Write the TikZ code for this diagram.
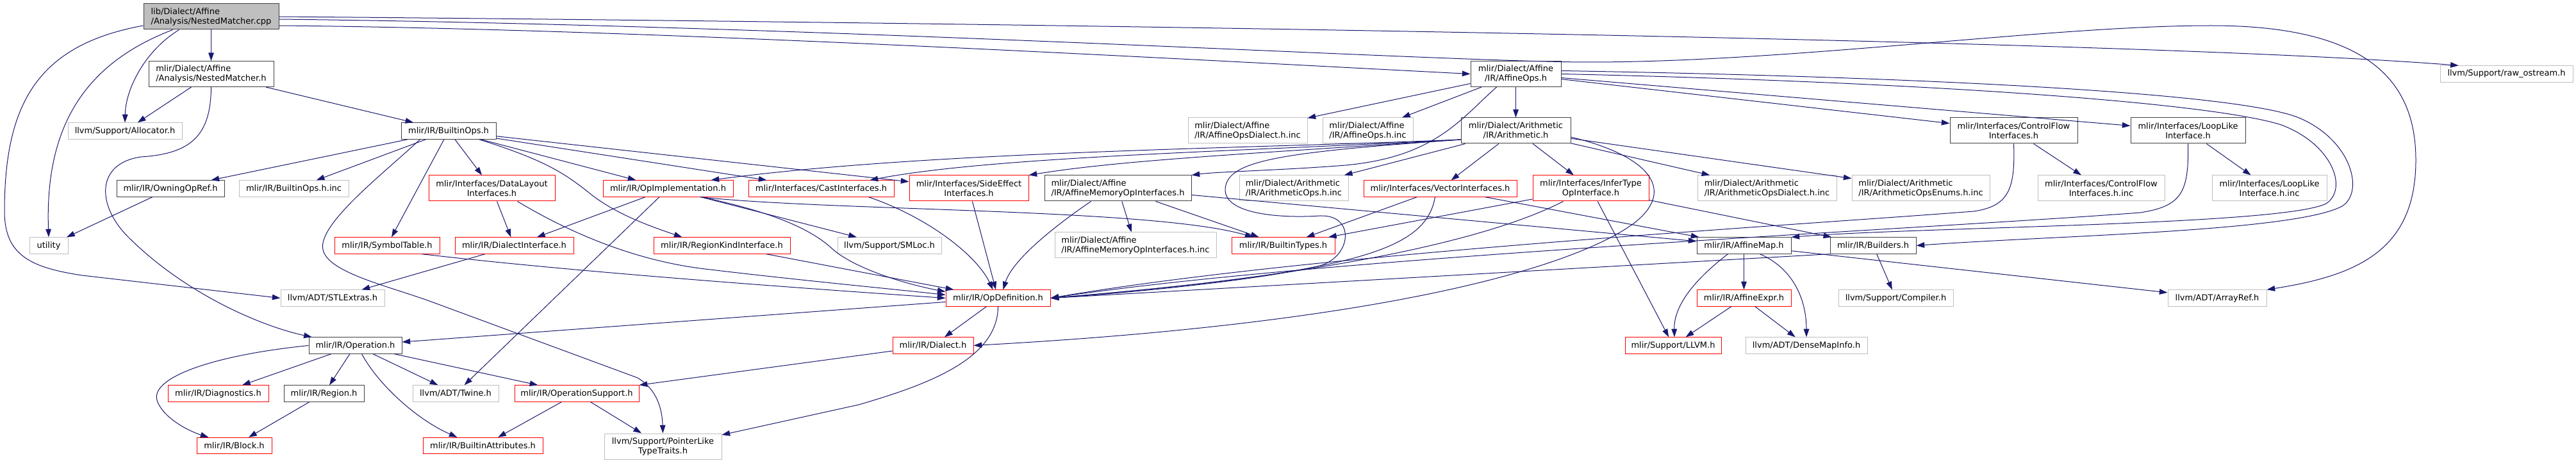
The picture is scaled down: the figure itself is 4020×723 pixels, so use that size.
\documentclass[tikz,border=0pt]{standalone}
\usepackage{fontspec}
\setmainfont{DejaVu Sans}
\usepackage{xcolor}
\usetikzlibrary{arrows.meta, calc}
\definecolor{edge-blue}{HTML}{191970}
\definecolor{leaf-grey}{HTML}{BFBFBF}
\definecolor{node-grey}{HTML}{404040}

\begin{document}
\begin{tikzpicture}[x=0.75pt, y=-0.75pt,
    every node/.style={font=\fontsize{9.75}{11.25}\selectfont, rectangle, align=center,
      inner xsep=2pt, inner ysep=1pt, minimum height=19pt, line width=0.75pt},
    hdr/.style={draw=node-grey},
    leaf/.style={draw=leaf-grey},
    cut/.style={draw=red},
    two/.style={minimum height=30pt},
    boxw/.style={minimum width=#1*0.75pt},
    dep/.style={draw=edge-blue, line width=0.75pt, -{Triangle[length=9.5pt, width=6.5pt]}}]
    \useasboundingbox (0,0) rectangle (4020,723);

    \node[hdr, two, boxw=211, fill=leaf-grey, align=left] (root) at (329.5,26) {lib/Dialect/Affine\\/Analysis/NestedMatcher.cpp};
    \node[hdr, two, boxw=195, align=left] (nestedh) at (329.5,115.5) {mlir/Dialect/Affine\\/Analysis/NestedMatcher.h};
    \node[leaf, boxw=178] (allocator) at (195,204.5) {llvm/Support/Allocator.h};
    \node[hdr, boxw=168] (owningref) at (266,294.5) {mlir/IR/OwningOpRef.h};
    \node[leaf, boxw=171] (builtinopsinc) at (458.5,294.5) {mlir/IR/BuiltinOps.h.inc};
    \node[hdr, boxw=148] (builtinops) at (700,204.5) {mlir/IR/BuiltinOps.h};
    \node[cut, boxw=164] (symboltable) at (604,383.5) {mlir/IR/SymbolTable.h};
    \node[leaf, boxw=60] (utility) at (76,383.5) {utility};
    \node[leaf, boxw=162] (stlextras) at (519,465.5) {llvm/ADT/STLExtras.h};
    \node[hdr, boxw=145] (operation) at (554.5,539.5) {mlir/IR/Operation.h};
    \node[cut, boxw=157] (diagnostics) at (340.5,614.5) {mlir/IR/Diagnostics.h};
    \node[hdr, boxw=125] (region) at (505.5,614.5) {mlir/IR/Region.h};
    \node[cut, boxw=117] (block) at (365.5,696) {mlir/IR/Block.h};
    \node[leaf, boxw=134] (twine) at (711,614.5) {llvm/ADT/Twine.h};
    \node[cut, boxw=187] (builtinattrs) at (753.5,696) {mlir/IR/BuiltinAttributes.h};
    \node[cut, two, boxw=197] (datalayout) at (767.5,294) {mlir/Interfaces/DataLayout\\Interfaces.h};
    \node[cut, boxw=203] (opimpl) at (1042.5,294.5) {mlir/IR/OpImplementation.h};
    \node[cut, boxw=227] (castiface) at (1281.5,294.5) {mlir/Interfaces/CastInterfaces.h};
    \node[cut, boxw=185] (dialectiface) at (802.5,383.5) {mlir/IR/DialectInterface.h};
    \node[cut, boxw=213] (regionkind) at (1126.5,383.5) {mlir/IR/RegionKindInterface.h};
    \node[leaf, boxw=162] (smloc) at (1388,383.5) {llvm/Support/SMLoc.h};
    \node[cut, boxw=194] (opsupport) at (900,614.5) {mlir/IR/OperationSupport.h};
    \node[leaf, two, boxw=183] (ptrlike) at (1034.5,697) {llvm/Support/PointerLike\\TypeTraits.h};
    \node[cut, two, boxw=186] (sideeffect) at (1512,294) {mlir/Interfaces/SideEffect\\Interfaces.h};
    \node[hdr, two, boxw=229, align=left] (memopiface) at (1744.5,294) {mlir/Dialect/Affine\\/IR/AffineMemoryOpInterfaces.h};
    \node[leaf, two, boxw=186, align=left] (affdialectinc) at (1947,204) {mlir/Dialect/Affine\\/IR/AffineOpsDialect.h.inc};
    \node[leaf, two, boxw=170, align=left] (arithopsinc) at (2019,294) {mlir/Dialect/Arithmetic\\/IR/ArithmeticOps.h.inc};
    \node[leaf, two, boxw=252, align=left] (memopifaceinc) at (1772,383) {mlir/Dialect/Affine\\/IR/AffineMemoryOpInterfaces.h.inc};
    \node[cut, boxw=161] (builtintypes) at (2002.5,383.5) {mlir/IR/BuiltinTypes.h};
    \node[cut, boxw=163] (opdef) at (1557.5,465.5) {mlir/IR/OpDefinition.h};
    \node[cut, boxw=126] (dialect) at (1456,539.5) {mlir/IR/Dialect.h};
    \node[hdr, two, boxw=141] (affineops) at (2365.5,115.5) {mlir/Dialect/Affine\\/IR/AffineOps.h};
    \node[leaf, two, boxw=141, align=left] (affopsinc) at (2134.5,204) {mlir/Dialect/Affine\\/IR/AffineOps.h.inc};
    \node[hdr, two, boxw=171] (arith) at (2365.5,204) {mlir/Dialect/Arithmetic\\/IR/Arithmetic.h};
    \node[cut, boxw=239] (vectoriface) at (2247.5,294.5) {mlir/Interfaces/VectorInterfaces.h};
    \node[cut, two, boxw=181] (infertype) at (2482.5,294) {mlir/Interfaces/InferType\\OpInterface.h};
    \node[leaf, two, boxw=217, align=left] (arithdialectinc) at (2757.5,294) {mlir/Dialect/Arithmetic\\/IR/ArithmeticOpsDialect.h.inc};
    \node[hdr, boxw=147] (affinemap) at (2721.5,383.5) {mlir/IR/AffineMap.h};
    \node[cut, boxw=147] (affineexpr) at (2721.5,465.5) {mlir/IR/AffineExpr.h};
    \node[cut, boxw=150] (llvmh) at (2611,539.5) {mlir/Support/LLVM.h};
    \node[leaf, two, boxw=215, align=left] (arithenumsinc) at (2997.5,294) {mlir/Dialect/Arithmetic\\/IR/ArithmeticOpsEnums.h.inc};
    \node[hdr, two, boxw=199] (controlflow) at (3142.5,204) {mlir/Interfaces/ControlFlow\\Interfaces.h};
    \node[leaf, two, boxw=198] (controlflowinc) at (3279,294) {mlir/Interfaces/ControlFlow\\Interfaces.h.inc};
    \node[hdr, two, boxw=179] (looplike) at (3414.5,204) {mlir/Interfaces/LoopLike\\Interface.h};
    \node[hdr, boxw=134] (builders) at (2923,383.5) {mlir/IR/Builders.h};
    \node[leaf, boxw=179] (compiler) at (2958.5,465.5) {llvm/Support/Compiler.h};
    \node[leaf, boxw=190] (densemapinfo) at (2819,539.5) {llvm/ADT/DenseMapInfo.h};
    \node[leaf, two, boxw=179] (looplikeinc) at (3541.5,294) {mlir/Interfaces/LoopLike\\Interface.h.inc};
    \node[leaf, boxw=207] (rawostream) at (3911.5,115.5) {llvm/Support/raw\_ostream.h};
    \node[leaf, boxw=154] (arrayref) at (3460,465.5) {llvm/ADT/ArrayRef.h};

    \draw[dep] (root) -- (nestedh);
    \draw[dep] ($(root.south)+(-50,0)$) .. controls (225,80) and (196,140) .. (allocator.north);
    \draw[dep] ($(root.south)+(-60,0)$) .. controls (130,100) and (70,200) .. (utility.north);
    \draw[dep] ($(root.west)+(0,14)$) .. controls (60,70) and (7,160) .. (7,330) .. controls (7,400) and (50,418) .. (128,430) -- (stlextras.west);
    \draw[dep] ($(root.east)+(0,14)$) .. controls (1000,45) and (1800,90) .. (affineops.west);
    \draw[dep] (root.east) .. controls (1500,35) and (3300,60) .. (rawostream.170);
    \draw[dep] ($(root.east)+(0,4)$) .. controls (1300,40) and (2250,97) .. (2480,97) .. controls (2800,97) and (3200,40) .. (3450,40) .. controls (3700,40) and (3770,130) .. (3770,250) .. controls (3770,390) and (3680,430) .. (arrayref.north east);

    \draw[dep] (nestedh) -- (allocator);
    \draw[dep] (nestedh) -- (builtinops);
    \draw[dep] (nestedh.south) .. controls (329,210) and (300,240) .. (220,245) .. controls (150,255) and (150,320) .. (200,370) .. controls (290,460) and (410,510) .. (operation.169);

    \draw[dep] (builtinops) -- (owningref);
    \draw[dep] (builtinops) -- (builtinopsinc);
    \draw[dep] (builtinops) -- (symboltable);
    \draw[dep] (builtinops) -- (datalayout);
    \draw[dep] (builtinops) -- (opimpl);
    \draw[dep] (builtinops) -- (castiface);
    \draw[dep] (builtinops) -- (sideeffect);
    \draw[dep] ($(builtinops.south east)+(-27,0)$) .. controls (850,250) and (880,270) .. (918,300) .. controls (960,335) and (1020,355) .. ($(regionkind.north west)+(45,0)$);
    \draw[dep] ($(builtinops.south west)+(30,0)$) .. controls (600,270) and (495,350) .. (504,390) .. controls (512,425) and (600,445) .. (670,470) -- (995,590) .. controls (1020,605) and (1033,630) .. (ptrlike.north);

    \draw[dep] (owningref) -- (utility);
    \draw[dep] ($(symboltable.south east)+(-28,0)$) .. controls (900,425) and (1250,450) .. (opdef.west);
    \draw[dep] (datalayout) -- (dialectiface);
    \draw[dep] ($(datalayout.south)+(40,0)$) .. controls (900,370) and (1000,408) .. (1100,420) .. controls (1250,438) and (1400,452) .. ($(opdef.west)+(0,-5)$);

    \draw[dep] (opimpl) -- (dialectiface);
    \draw[dep] (opimpl) -- (twine);
    \draw[dep] (opimpl) -- (smloc);
    \draw[dep] ($(opimpl.south)+(50,0)$) .. controls (1300,330) and (1800,325) .. ($(builtintypes.north)+(-47,0)$);
    \draw[dep] ($(opimpl.south)+(52,0)$) .. controls (1200,330) and (1260,355) .. (1295,385) .. controls (1330,420) and (1420,445) .. ($(opdef.west)+(0,-10)$);

    \draw[dep] ($(castiface.south east)+(-40,0)$) .. controls (1450,340) and (1525,400) .. ($(opdef.north)+(-8,0)$);
    \draw[dep] (sideeffect) -- (opdef);
    \draw[dep] (regionkind) -- (opdef);
    \draw[dep] (dialectiface) -- (stlextras);

    \draw[dep] (memopiface) -- (memopifaceinc);
    \draw[dep] (memopiface) -- (builtintypes);
    \draw[dep] (memopiface) -- (affinemap);
    \draw[dep] ($(memopiface.south)+(-42,0)$) .. controls (1650,350) and (1580,405) .. ($(opdef.north)+(8,0)$);

    \draw[dep] (affineops) -- (affdialectinc);
    \draw[dep] (affineops) -- (affopsinc);
    \draw[dep] (affineops) -- (arith);
    \draw[dep] (affineops) -- (controlflow);
    \draw[dep] (affineops) -- (looplike);
    \draw[dep] ($(affineops.south)+(-30,0)$) .. controls (2280,185) and (2240,245) .. (2100,258) .. controls (2000,266) and (1900,268) .. (memopiface.north east);
    \draw[dep] ($(affineops.east)+(0,-5)$) .. controls (3000,120) and (3500,145) .. (3590,185) .. controls (3670,220) and (3690,300) .. (3655,322) .. controls (3580,362) and (3200,368) .. (builders.east);
    \draw[dep] (affineops.east) .. controls (3000,128) and (3450,160) .. (3560,195) .. controls (3640,225) and (3665,295) .. (3630,318) .. controls (3560,352) and (3000,354) .. (affinemap.north east);

    \draw[dep] (arith) -- (arithopsinc);
    \draw[dep] (arith) -- (vectoriface);
    \draw[dep] (arith) -- (infertype);
    \draw[dep] (arith) -- (arithdialectinc);
    \draw[dep] (arith) -- (arithenumsinc);
    \draw[dep] ($(arith.east)+(0,10)$) .. controls (2580,245) and (2615,300) .. (2548,350) .. controls (2450,420) and (2150,505) .. (dialect.east);
    \draw[dep] ($(arith.west)+(0,14)$) .. controls (1950,232) and (1450,236) .. ($(opimpl.north east)+(-35,0)$);
    \draw[dep] ($(arith.west)+(0,14)$) .. controls (1950,236) and (1550,244) .. ($(castiface.north east)+(-38,0)$);
    \draw[dep] ($(arith.west)+(0,14)$) .. controls (1950,240) and (1750,250) .. (sideeffect.north east);
    \draw[dep] ($(arith.west)+(0,14)$) .. controls (2000,238) and (1915,250) .. (1912,295) .. controls (1910,335) and (2000,341) .. (2060,337) .. controls (2115,335) and (2110,400) .. (2060,415) .. controls (1950,440) and (1750,458) .. (opdef.east);

    \draw[dep] (vectoriface) -- (builtintypes);
    \draw[dep] (vectoriface) -- (affinemap);
    \draw[dep] ($(vectoriface.south)+(-8,0)$) .. controls (2225,390) and (2120,425) .. (opdef.east);

    \draw[dep] (infertype) -- (builtintypes);
    \draw[dep] (infertype) -- (llvmh);
    \draw[dep] (infertype) -- (builders);
    \draw[dep] ($(infertype.south)+(-43,0)$) .. controls (2380,345) and (2200,420) .. (opdef.east);

    \draw[dep] (controlflow) -- (controlflowinc);
    \draw[dep] (controlflow.south) .. controls (3145,295) and (3135,322) .. (3080,330) .. controls (2800,352) and (2050,395) .. (opdef.east);
    \draw[dep] (looplike) -- (looplikeinc);
    \draw[dep] (looplike.south) .. controls (3416,300) and (3405,322) .. (3340,332) .. controls (3000,358) and (2080,400) .. (opdef.east);

    \draw[dep] (builders) -- (compiler);
    \draw[dep] (builders.south west) -- (opdef.east);

    \draw[dep] (affinemap) -- (affineexpr);
    \draw[dep] (affinemap) -- (arrayref);
    \draw[dep] ($(affinemap.south)+(25,0)$) .. controls (2800,420) and (2819,470) .. (densemapinfo.north);
    \draw[dep] ($(affinemap.south)+(-25,0)$) .. controls (2640,440) and (2612,480) .. ($(llvmh.north)+(2,0)$);
    \draw[dep] (affineexpr) -- (llvmh);
    \draw[dep] (affineexpr) -- (densemapinfo);

    \draw[dep] (opdef) -- (operation);
    \draw[dep] (opdef) -- (dialect);
    \draw[dep] (opdef.south) .. controls (1557,560) and (1450,600) .. (1340,632) -- (ptrlike.11);
    \draw[dep] (dialect) -- (opsupport);

    \draw[dep] (operation) -- (diagnostics);
    \draw[dep] (operation) -- (region);
    \draw[dep] (operation) -- (twine);
    \draw[dep] (operation) -- (opsupport);
    \draw[dep] (operation.west) .. controls (330,555) and (235,590) .. (245,625) .. controls (255,655) and (300,675) .. ($(block.north)+(-40,0)$);
    \draw[dep] ($(operation.south)+(10,0)$) .. controls (590,600) and (650,655) .. ($(builtinattrs.north)+(-40,0)$);
    \draw[dep] (region) -- (block);
    \draw[dep] (opsupport) -- (builtinattrs);
    \draw[dep] (opsupport) -- (ptrlike);
  \end{tikzpicture}
\end{document}
